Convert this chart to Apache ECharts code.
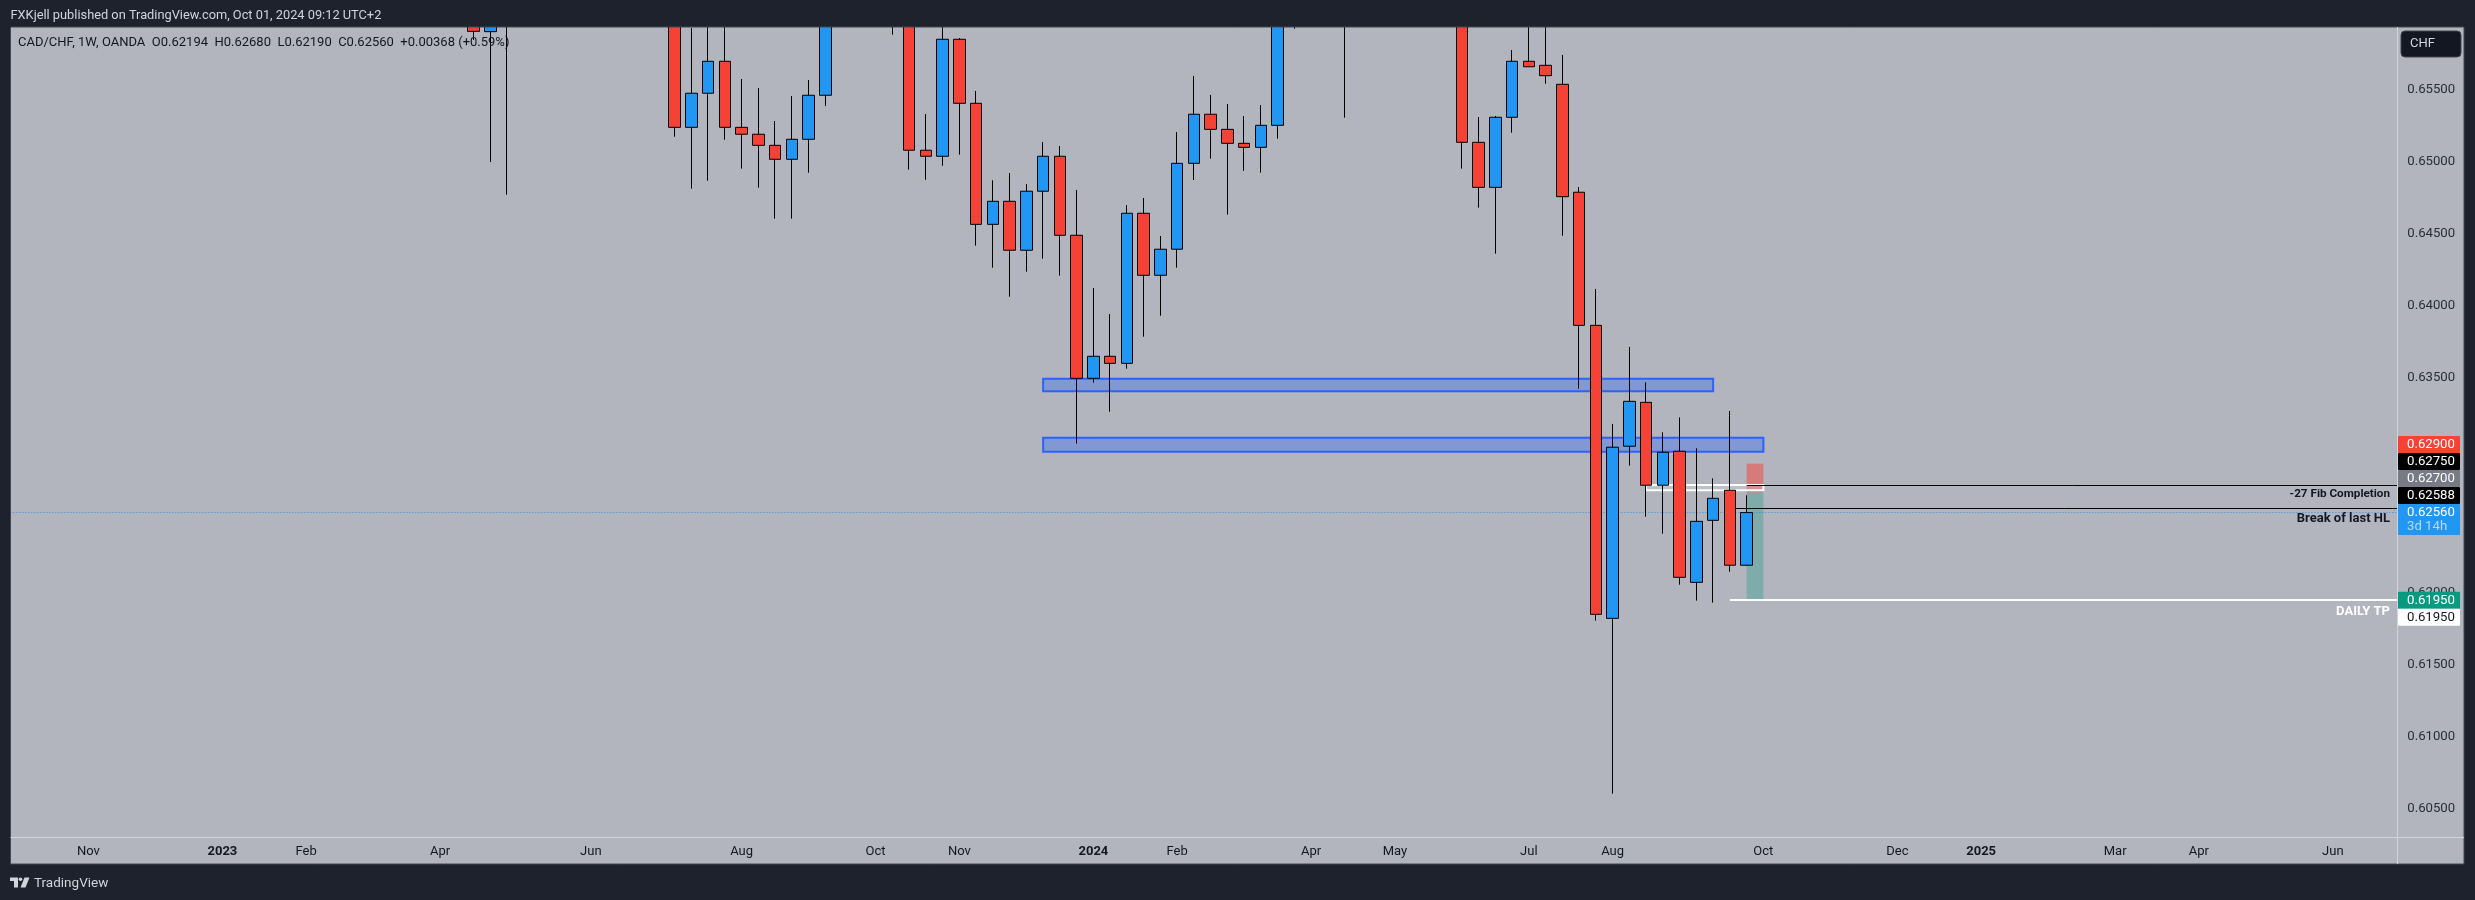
<!DOCTYPE html>
<html><head><meta charset="utf-8">
<style>html,body{margin:0;padding:0;background:#1e222d}#c{width:2475px;height:900px}</style>
<script src="https://cdn.jsdelivr.net/npm/echarts@6/dist/echarts.min.js"></script>
</head><body><div id="c"></div>
<script>
// ---------- DATA ----------
const firstWeek = '2022-10-10';
const lastWeek = '2025-06-30';
const firstCandle = '2023-04-17';
// weekly OHLC, oldest to newest; null = the week lies entirely above the visible range
const opens = [0.6615,0.65902,0.6598,null,null,null,null,null,null,null,null,null,0.6625,0.65237,0.65474,0.65696,0.65237,0.65189,0.65112,0.65015,0.65154,0.65460,null,null,null,0.6625,0.6618,0.65078,0.65036,0.65849,0.65404,0.64563,0.64723,0.64383,0.64793,0.65036,0.64487,0.63493,0.63646,0.63597,0.64640,0.64209,0.64390,0.64987,0.65328,0.65223,0.65126,0.65098,0.65251,0.6605,null,null,0.6608,null,null,null,null,null,null,0.6625,0.65133,0.64820,0.65307,0.65696,0.65668,0.65536,0.64786,0.63861,0.61825,0.63021,0.63326,0.62750,0.62986,0.62075,0.62506,0.62715,0.62194];
const highs = [0.662,0.6612,0.663,null,null,null,null,null,null,null,null,null,0.663,0.65927,0.6605,0.6605,0.65573,0.65510,0.65281,0.65455,0.65566,0.6625,null,null,null,0.665,0.6625,0.65330,0.6605,0.65858,0.65490,0.64869,0.64920,0.64843,0.65135,0.65107,0.64802,0.64121,0.63940,0.64697,0.64746,0.64482,0.65205,0.65594,0.65462,0.65399,0.65316,0.65392,0.6625,0.6635,null,null,0.6635,null,null,null,null,null,null,0.6635,0.65309,0.65316,0.65774,0.6605,0.6605,0.65740,0.64822,0.64114,0.63176,0.63711,0.63465,0.63118,0.63222,0.63007,0.62798,0.63266,0.62680];
const lows = [0.65844,0.64996,0.64769,null,null,null,null,null,null,null,null,null,0.65172,0.64811,0.64866,0.65151,0.64950,0.64818,0.64602,0.64602,0.64922,0.65385,null,null,null,0.65881,0.64943,0.64873,0.64970,0.65047,0.64415,0.64262,0.64060,0.64234,0.64324,0.64206,0.63039,0.63463,0.63261,0.63560,0.63782,0.63928,0.64262,0.64871,0.65019,0.64630,0.64934,0.64922,0.65158,0.65922,null,null,0.65304,null,null,null,null,null,null,0.64950,0.64679,0.64359,0.65200,0.65658,0.65540,0.64484,0.63421,0.61809,0.60606,0.62886,0.62531,0.62413,0.62059,0.61948,0.61934,0.62149,0.62190];
const closes = [0.65904,0.6608,0.6625,null,null,null,null,null,null,null,null,null,0.65237,0.65474,0.65696,0.65237,0.65189,0.65112,0.65015,0.65154,0.65460,0.6615,null,null,null,0.664,0.65078,0.65036,0.65849,0.65404,0.64563,0.64723,0.64383,0.64793,0.65036,0.64487,0.63493,0.63646,0.63597,0.64640,0.64209,0.64390,0.64987,0.65328,0.65223,0.65126,0.65098,0.65251,0.6615,0.662,null,null,0.6625,null,null,null,null,null,null,0.65133,0.64820,0.65307,0.65696,0.65658,0.65596,0.64755,0.63861,0.61853,0.63014,0.63333,0.62750,0.62979,0.62110,0.62499,0.62659,0.62194,0.62560];

const priceTicks = [0.605,0.61,0.615,0.62,0.625,0.63,0.635,0.64,0.645,0.65,0.655];
const timeTicks = {'2022-11-07':'Nov','2023-01-02':'2023','2023-02-06':'Feb','2023-04-03':'Apr','2023-06-05':'Jun','2023-08-07':'Aug','2023-10-02':'Oct','2023-11-06':'Nov','2024-01-01':'2024','2024-02-05':'Feb','2024-04-01':'Apr','2024-05-06':'May','2024-07-01':'Jul','2024-08-05':'Aug','2024-10-07':'Oct','2024-12-02':'Dec','2025-01-06':'2025','2025-03-03':'Mar','2025-04-07':'Apr','2025-06-02':'Jun'};

const zoneA = ['2023-12-11','2024-09-16',0.63490,0.63403];
const zoneB = ['2023-12-11','2024-10-07',0.63080,0.62983];
const fibBox = ['2024-08-19','2024-10-07',0.62752,0.62715];
const stopBox = ['2024-09-30','2024-10-07',0.62900,0.62700];
const targetBox = ['2024-09-30','2024-10-07',0.62700,0.61950];
const fibLine = ['2024-09-30',0.62750,'-27 Fib Completion'];
const breakLine = ['2024-09-23',0.62588,'Break of last HL'];
const tpLine = ['2024-09-23',0.61950,'DAILY TP'];
const lastPrice = 0.62560;

const tagValues = [0.62900,0.62750,0.62700,0.62588,0.62560,0.61950,0.61950];
const tagFills = ['#f44336','#000000','#787b86','#000000','#2196f3','#089981','#ffffff'];
const tagInks = ['#ffffff','#ffffff','#ffffff','#ffffff','#ffffff','#ffffff','#131722'];
const countdown = '3d 14h';

const headerText = 'FXKjell published on TradingView.com, Oct 01, 2024 09:12 UTC+2';
const legendText = 'CAD/CHF, 1W, OANDA  O0.62194  H0.62680  L0.62190  C0.62560  +0.00368 (+0.59%)';

// ---------- BUILD ----------
const FONT = 'Roboto, "Noto Sans", sans-serif';
const DARK = '#1e222d', PANEL = '#b2b5be', INK = '#131722', RULE = '#d1d4dc';
const categories = [];
for (let t = Date.parse(firstWeek + 'T00:00:00Z'); t <= Date.parse(lastWeek + 'T00:00:00Z'); t += 7 * 864e5) {
  categories.push(new Date(t).toISOString().slice(0, 10));
}
const idx = d => categories.indexOf(d);
const startAt = idx(firstCandle);
const ohlc = categories.map((_, i) => {
  const j = i - startAt;
  return (j >= 0 && j < opens.length && opens[j] != null) ? [opens[j], closes[j], lows[j], highs[j]] : ['-', '-', '-', '-'];
});

function boxSeries(row, fill, stroke, lw, z) {
  return { type: 'custom', coordinateSystem: 'cartesian2d', z, silent: true,
    data: [[idx(row[0]), idx(row[1]), row[2], row[3]]],
    renderItem(p, api) {
      const a = api.coord([api.value(0), api.value(2)]), b = api.coord([api.value(1), api.value(3)]);
      return { type: 'rect', shape: { x: a[0], y: a[1], width: b[0] - a[0], height: b[1] - a[1] },
        style: { fill, stroke: stroke || null, lineWidth: lw || 0 } };
    } };
}
function hLine(row, color, lw, textStyle, dash, lead) {
  const end = categories.length - 1;
  return { type: 'custom', coordinateSystem: 'cartesian2d', z: 1, silent: true,
    data: [[idx(row[0]), row[1]]],
    renderItem(p, api) {
      const a = api.coord([api.value(0), api.value(1)]), b = api.coord([end, api.value(1)]);
      const y = lw === 1 ? Math.floor(a[1]) + 0.5 : Math.round(a[1]);
      const kids = [{ type: 'line', shape: { x1: a[0] - (lead || 0), y1: y, x2: b[0], y2: y },
        style: { stroke: color, lineWidth: lw, lineDash: dash || null } }];
      if (textStyle) kids.push({ type: 'text', z2: 5, style: Object.assign({ text: row[2], x: 2390, y: a[1] + textStyle.dy, align: 'right', verticalAlign: 'middle', fontFamily: FONT }, textStyle.s) });
      return { type: 'group', children: kids };
    } };
}
function tagY(api, i) {
  const base = api.coord([0, tagValues[i]])[1];
  if (i < 4) return Math.min(base, tagY(api, i + 1) - 17);
  if (i === 6) return Math.max(base, tagY(api, 5) + 17);
  return base;
}
const frames = [
  [0, 0, 2475, 27, DARK], [0, 27, 10.5, 873, DARK], [2464, 27, 11, 873, DARK], [0, 864, 2475, 36, DARK],
  [10.5, 837, 2453.5, 27, PANEL], [2397, 27, 67, 837, PANEL]
].map(r => ({ type: 'rect', z: 4, silent: true, shape: { x: r[0], y: r[1], width: r[2], height: r[3] }, style: { fill: r[4] } }));
const rule = (x1, y1, x2, y2, c) => ({ type: 'line', z: 4, silent: true, shape: { x1, y1, x2, y2 }, style: { stroke: c, lineWidth: 1 } });
const label = (text, x, y, fill, size, extra) => ({ type: 'text', z: 6, silent: true,
  style: Object.assign({ text, x, y, fill, fontFamily: FONT, fontSize: size, verticalAlign: 'middle' }, extra || {}) });

const option = {
  animation: false,
  backgroundColor: PANEL,
  grid: { left: 13, top: 27, width: 2395.25, height: 810, containLabel: false },
  xAxis: { type: 'category', data: categories, boundaryGap: true, z: 5,
    axisLine: { show: false }, axisTick: { show: false }, splitLine: { show: false },
    axisLabel: { margin: 8, fontFamily: FONT, fontSize: 13, color: INK, hideOverlap: false,
      interval: (i, v) => v in timeTicks,
      formatter: v => { const s = timeTicks[v] || ''; return /^\d{4}$/.test(s) ? '{y|' + s + '}' : s; },
      rich: { y: { fontWeight: 'bold', fontFamily: FONT, fontSize: 13, color: INK } } } },
  yAxis: { type: 'value', position: 'right', min: 0.603054, max: 0.659343, scale: true, z: 5,
    axisLine: { show: false }, axisTick: { show: false }, splitLine: { show: false },
    axisLabel: { margin: -1, fontFamily: FONT, fontSize: 13.2, color: '#2a2e39', customValues: priceTicks, formatter: v => v.toFixed(5), showMinLabel: true, showMaxLabel: true } },
  graphic: { elements: [
    { type: 'rect', z: -1, silent: true, shape: { x: 0, y: 0, width: 2475, height: 900 }, style: { fill: PANEL } },
    ...frames,
    rule(10.5, 27, 2464, 27, '#434651'), rule(10.5, 864, 2464, 864, '#434651'), rule(10.5, 27, 10.5, 864, '#434651'), rule(2464, 27, 2464, 864, '#434651'),
    rule(10.5, 837.5, 2464, 837.5, RULE), rule(2397.5, 27, 2397.5, 864, RULE),
    label(headerText, 10.5, 16, '#d1d4dc', 12.8),
    label(legendText, 18, 43, INK, 13),
    { type: 'rect', z: 6, silent: true, shape: { x: 2401, y: 31, width: 60, height: 26, r: 4 }, style: { fill: '#131722', stroke: '#434651', lineWidth: 1 } },
    label('CHF', 2410, 44, '#d1d4dc', 13),
    { type: 'polygon', z: 6, silent: true, shape: { points: [[10, 877.5], [18, 877.5], [18, 887.5], [14, 887.5], [14, 881], [10, 881]] }, style: { fill: '#d1d4dc' } },
    { type: 'circle', z: 6, silent: true, shape: { cx: 20.5, cy: 879.3, r: 1.8 }, style: { fill: '#d1d4dc' } },
    { type: 'polygon', z: 6, silent: true, shape: { points: [[24.5, 877.5], [29.5, 877.5], [25.5, 887.5], [20.5, 887.5]] }, style: { fill: '#d1d4dc' } },
    label('TradingView', 34, 883.5, '#d1d4dc', 13.5)
  ] },
  series: [
    boxSeries(zoneA, 'rgba(41,98,255,0.35)', '#2962ff', 2, 1),
    boxSeries(zoneB, 'rgba(41,98,255,0.35)', '#2962ff', 2, 1),
    boxSeries(stopBox, 'rgba(244,67,54,0.5)', null, 0, 1),
    boxSeries(targetBox, 'rgba(8,153,129,0.3)', null, 0, 1),
    boxSeries(fibBox, 'rgba(255,255,255,0.15)', '#ffffff', 2, 1),
    hLine(['2022-10-10', lastPrice], '#2196f3', 1, null, [1, 2], 11),
    hLine(fibLine, '#000000', 1, { dy: 8.5, s: { fill: INK, fontSize: 11.7, fontWeight: 'bold' } }),
    hLine(breakLine, '#000000', 1, { dy: 10.5, s: { fill: INK, fontSize: 13, fontWeight: 'bold' } }),
    hLine(tpLine, '#ffffff', 2, { dy: 11, s: { fill: '#ffffff', fontSize: 13, fontWeight: 'bold' } }),
    { type: 'candlestick', z: 2, data: ohlc, barWidth: 12, silent: true,
      itemStyle: { color: '#2196f3', color0: '#f44336', borderColor: '#000000', borderColor0: '#000000', borderWidth: 1 } },
    { type: 'custom', coordinateSystem: 'cartesian2d', z: 7, silent: true,
      data: tagValues.map((v, i) => [i, v]),
      renderItem(p, api) {
        const i = api.value(0), y = tagY(api, i), tall = i === 4;
        const kids = [
          { type: 'rect', shape: { x: 2398, y: y - 8.5, width: 62, height: tall ? 31 : 17, r: 1 }, style: { fill: tagFills[i] } },
          { type: 'text', style: { text: tagValues[i].toFixed(5), x: 2407, y, fill: tagInks[i], fontFamily: FONT, fontSize: 13.2, verticalAlign: 'middle' } }
        ];
        if (tall) kids.push({ type: 'text', style: { text: countdown, x: 2407, y: y + 14, fill: 'rgba(255,255,255,0.65)', fontFamily: FONT, fontSize: 13.2, verticalAlign: 'middle' } });
        return { type: 'group', children: kids };
      } }
  ]
};
echarts.init(document.getElementById('c'), null, { renderer: 'canvas' }).setOption(option);
</script>
</body></html>
